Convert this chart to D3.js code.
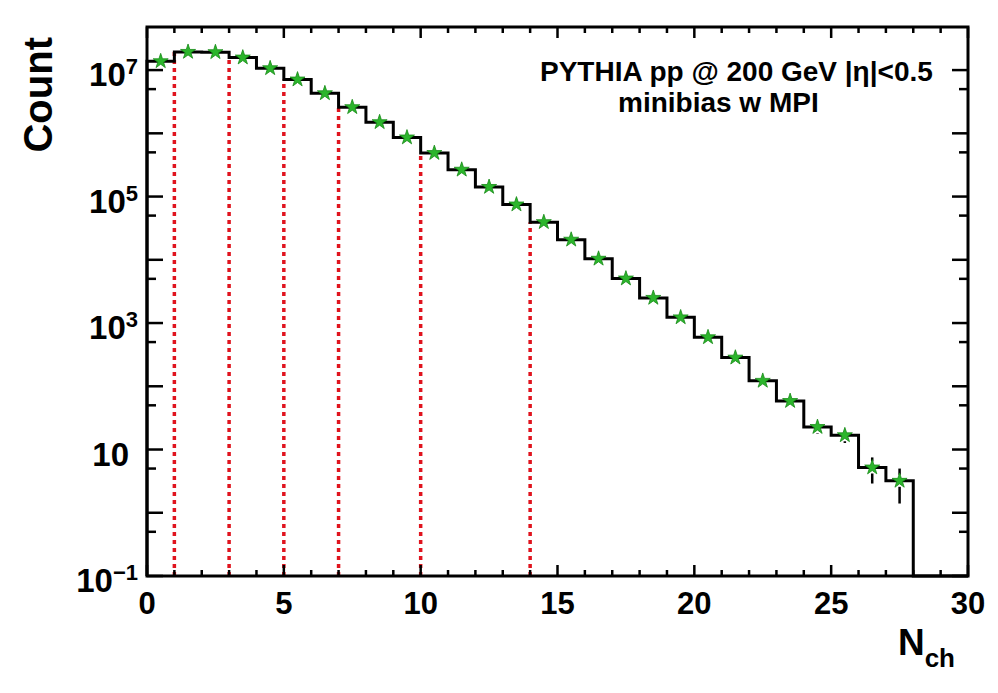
<!DOCTYPE html>
<html>
<head>
<meta charset="utf-8">
<script src="https://cdn.jsdelivr.net/npm/d3@7"></script>
<style>
  body { margin: 0; background: #fff; }
  text { font-family: "Liberation Sans", Arial, sans-serif; font-weight: bold; fill: #000; }
</style>
</head>
<body>
<script>
// N_ch bins (lower edges) and counts
var binEdges = [0,1,2,3,4,5,6,7,8,9,10,11,12,13,14,15,16,17,18,19,20,21,22,23,24,25,26,27];
var counts = [1.38e7, 1.94e7, 1.92e7, 1.58e7, 1.07e7, 7.1e6, 4.3e6, 2.59e6, 1.5e6, 8.6e5,
              4.88e5, 2.66e5, 1.42e5, 7.5e4, 3.94e4, 2.08e4, 1.04e4, 5.06e3, 2.5e3, 1.23e3,
              596, 284, 122, 58.5, 22.7, 16.8, 5.2, 3.2];
// errors only visible on the last few bins
var errs = [0,0,0,0,0,0,0,0,0,0,0,0,0,0,0,0,0,0,0,0,0,0,0,0,4.8,4.1,2.3,1.8];
var cuts = [1, 3, 5, 7, 10, 14];
var xTickLabels = [0, 5, 10, 15, 20, 25, 30];
var yLabelExps = [-1, 1, 3, 5, 7];
var decades = [-1,0,1,2,3,4,5,6,7];

var W = 998, H = 693,
    fL = 147, fR = 968, fT = 27, fB = 576;   // frame edges

var svg = d3.select("body").append("svg").attr("width", W).attr("height", H),
    x = d3.scaleLinear().domain([0, 30]).range([fL, fR]),
    y = d3.scaleLog().domain([0.1, 4.8e7]).range([fB, fT]);

var bins = binEdges.map(function(e, i) {
    return {x0: e, x1: e + 1, v: counts[i], err: errs[i]};
});

// red dotted cut lines, from the axis up to the bin starting at the cut
svg.append("g").selectAll("line").data(cuts).enter().append("line")
    .attr("x1", function(d) { return x(d); })
    .attr("x2", function(d) { return x(d); })
    .attr("y1", fB)
    .attr("y2", function(d) { return y(counts[binEdges.indexOf(d)]); })
    .attr("stroke", "#e0141e")
    .attr("stroke-width", 3.5)
    .attr("stroke-dasharray", "4,4");

// histogram outline (step)
var pts = [[x(0), y(0.1)]];
bins.forEach(function(b) {
    pts.push([x(b.x0), y(b.v)]);
    pts.push([x(b.x1), y(b.v)]);
});
pts.push([x(28), y(0.1)]);
pts.push([x(30), y(0.1)]);
svg.append("path")
    .attr("d", d3.line()(pts))
    .attr("fill", "none")
    .attr("stroke", "#000")
    .attr("stroke-width", 3);

// error bars with a gap where the marker sits
var gap = 6;
var eb = svg.append("g").attr("stroke", "#000").attr("stroke-width", 2.5);
bins.filter(function(b) { return b.err > 0; }).forEach(function(b) {
    var cx = x((b.x0 + b.x1) / 2), cy = y(b.v),
        yHi = y(b.v + b.err), yLo = y(Math.max(b.v - b.err, 0.1));
    if (cy - yHi > gap) eb.append("line").attr("x1", cx).attr("x2", cx).attr("y1", yHi).attr("y2", cy - gap);
    if (yLo - cy > gap) eb.append("line").attr("x1", cx).attr("x2", cx).attr("y1", cy + gap).attr("y2", yLo);
});

// star markers
svg.append("g").selectAll("path").data(bins).enter().append("path")
    .attr("d", d3.symbol().type(d3.symbolStar).size(70))
    .attr("transform", function(d) { return "translate(" + x((d.x0 + d.x1) / 2) + "," + y(d.v) + ")"; })
    .attr("fill", "#2cb52c")
    .attr("stroke", "#178a17")
    .attr("stroke-width", 0.8);

// frame
svg.append("rect")
    .attr("x", fL).attr("y", fT)
    .attr("width", fR - fL).attr("height", fB - fT)
    .attr("fill", "none").attr("stroke", "#000").attr("stroke-width", 3);

// ticks: x every integer (long every 5), y every decade (long) and 5x10^n (short)
var ticks = svg.append("g").attr("stroke", "#000").attr("stroke-width", 2.5);
d3.range(0, 31).forEach(function(v) {
    var len = v % 5 === 0 ? 11 : 6, px = x(v);
    ticks.append("line").attr("x1", px).attr("x2", px).attr("y1", fB).attr("y2", fB - len);
    ticks.append("line").attr("x1", px).attr("x2", px).attr("y1", fT).attr("y2", fT + len);
});
decades.forEach(function(e) {
    [[Math.pow(10, e), 16], [5 * Math.pow(10, e), 9]].forEach(function(t) {
        if (t[0] > 4.8e7) return;
        var py = y(t[0]);
        ticks.append("line").attr("x1", fL).attr("x2", fL + t[1]).attr("y1", py).attr("y2", py);
        ticks.append("line").attr("x1", fR).attr("x2", fR - t[1]).attr("y1", py).attr("y2", py);
    });
});

// x tick labels
svg.append("g").selectAll("text").data(xTickLabels).enter().append("text")
    .attr("x", function(d) { return x(d); })
    .attr("y", 614)
    .attr("text-anchor", "middle")
    .style("font-size", "31px")
    .text(function(d) { return d; });

// y tick labels as 10^n
yLabelExps.forEach(function(e) {
    var py = y(Math.pow(10, e));
    var t = svg.append("text")
        .attr("x", e === 1 ? 129 : 138)
        .attr("y", py + 16)
        .attr("text-anchor", "end")
        .style("font-size", "33px");
    t.append("tspan").text("10");
    if (e !== 1) {
        t.append("tspan")
            .attr("dy", -12)
            .style("font-size", "22px")
            .text(e < 0 ? "\u2212" + (-e) : e);
    }
});

// axis titles
svg.append("text")
    .attr("transform", "translate(52,37) rotate(-90)")
    .attr("text-anchor", "end")
    .style("font-size", "40px")
    .text("Count");

var nt = svg.append("text")
    .attr("x", 955).attr("y", 655)
    .attr("text-anchor", "end")
    .style("font-size", "37px");
nt.append("tspan").text("N");
nt.append("tspan").attr("dy", 12).style("font-size", "26px").text("ch");

// label
svg.append("text").attr("x", 540).attr("y", 81).style("font-size", "28px")
    .text("PYTHIA pp @ 200 GeV |\u03b7|<0.5");
svg.append("text").attr("x", 618).attr("y", 112).style("font-size", "28px")
    .text("minibias w MPI");
</script>
</body>
</html>
